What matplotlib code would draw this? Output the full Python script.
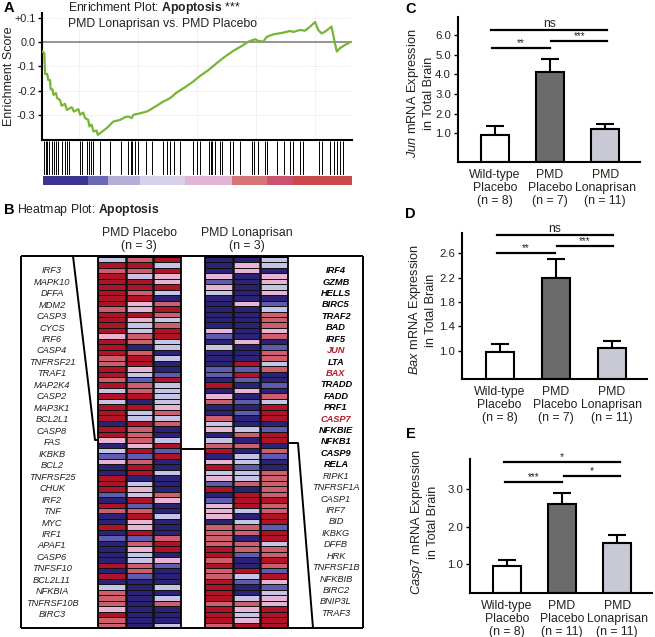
import numpy as np
import matplotlib
matplotlib.use('Agg')
import matplotlib.pyplot as plt
from matplotlib.colors import ListedColormap, BoundaryNorm

plt.rcParams['font.family'] = ['Liberation Sans', 'DejaVu Sans']
plt.rcParams['mathtext.fontset'] = 'custom'
plt.rcParams['mathtext.rm'] = 'Liberation Sans'
plt.rcParams['mathtext.it'] = 'Liberation Sans:italic'
plt.rcParams['mathtext.bf'] = 'Liberation Sans:bold'

# ---------------- data ----------------
# Panel A: running enrichment score (rank in % of list, score)
es_rank = [0.2, 0.75, 1.0, 1.7, 2.0, 2.6, 2.8, 3.4, 3.7, 4.5, 4.9, 5.8, 6.3, 7.4, 8.0, 9.6,
           10.3, 11.7, 12.3, 13.3, 13.9, 14.9, 15.3, 16.0, 16.6, 17.6, 18.0, 18.7, 20.9, 23.0,
           25.2, 26.8, 27.8, 28.9, 29.5, 31.6, 33.8, 34.8, 37.0, 39.1, 41.3, 43.4, 46.1, 48.8,
           51.0, 53.7, 56.3, 59.0, 61.7, 64.4, 66.6, 68.7, 69.8, 71.4, 72.5, 74.6, 77.8, 80.0,
           81.1, 83.2, 84.8, 86.5, 88.1, 89.1, 90.2, 91.3, 93.4, 94.5, 95.1, 96.1, 97.7, 99.4]
es_score = [-0.039, -0.046, -0.131, -0.131, -0.156, -0.156, -0.194, -0.194, -0.217, -0.210,
            -0.231, -0.238, -0.262, -0.254, -0.279, -0.268, -0.286, -0.276, -0.299, -0.290,
            -0.313, -0.320, -0.347, -0.340, -0.368, -0.364, -0.382, -0.375, -0.354, -0.327,
            -0.320, -0.309, -0.306, -0.313, -0.299, -0.293, -0.286, -0.279, -0.262, -0.245,
            -0.231, -0.208, -0.186, -0.162, -0.139, -0.115, -0.087, -0.060, -0.036, -0.016,
            0.002, 0.012, 0.005, 0.002, 0.022, 0.032, 0.039, 0.046, 0.042, 0.050, 0.047,
            0.064, 0.083, 0.050, 0.036, 0.043, 0.064, -0.005, -0.039, -0.025, -0.012, 0.0]
es_ticks = [0.1, 0.0, -0.1, -0.2, -0.3]
es_ticklabels = ['+0.1', '0.0', '-0.1', '-0.2', '-0.3']
hit_ranks = [0.6, 1.2, 1.7, 2.4, 3.1, 3.9, 4.5, 5.3, 6.3, 7.4, 8.0, 8.7, 12.3, 12.8, 14.6,
             15.3, 15.7, 16.3, 16.6, 18.7, 21.9, 25.4, 27.8, 28.6, 28.9, 30.0, 31.1, 33.5,
             35.4, 39.1, 40.2, 41.3, 42.7, 44.5, 48.8, 50.1, 51.0, 54.0, 54.4, 54.9, 55.8,
             57.4, 58.0, 60.6, 61.7, 63.9, 67.6, 68.4, 69.8, 71.9, 72.5, 75.7, 78.1, 80.0,
             81.1, 83.2, 84.3, 89.5, 90.2, 92.9, 94.3, 95.1, 96.1, 97.2]
rank_bar_edges = [0.2, 14.9, 21.4, 31.6, 46.1, 61.2, 72.5, 81.1, 100]
rank_bar_colors = ['#3b3590', '#6b68b4', '#b5aed6', '#d8d1ea', '#e3b5d5', '#d27478',
                   '#c85470', '#c84a4a']

# Panel B: heatmap (-3 dark blue ... +3 dark red), 68 rows
placebo_1 = [-1, 3, 2, 3, 3, 3, 3, 3, 3, 2, 3, 3, 3, 3, 1, 3, 3, 3, 2, 2, 3, 3, 2, 3, -1, 3, -1, 3, 3,
             3, -3, 3, 3, 1, -3, -1, -2, 1, -3, -3, 3, 3, 3, -2, -3, 3, 2, -3, -3, 3, -3, -2, -3,
             -3, -3, -3, 3, -3, 3, -3, -1, 2, 2, 2, 1, 3, 2, 2]
placebo_2 = [2, 3, 2, -1, 3, 3, 2, 3, 1, 1, 3, 1, -1, -1, 2, 2, -3, 2, 3, 3, 1, -1, -2, 2, 2, 3, -3, 3, -1,
             -1, 3, 2, 2, 2, 1, 3, -2, 2, 3, 3, -3, -1, 1, -1, 3, -2, 2, 3, 1, 1, 3, -2, 2, 1,
             -1, -1, 2, 2, -2, -3, -3, -3, -3, -3, -3, -3, -3, -3]
placebo_3 = [3, -1, 3, 1, 1, 3, -1, -3, 2, 3, 2, -1, 2, 3, 3, -1, -1, -3, -1, -3, -3, -2, 3, -1, -1, -1, -1, 1, 2,
             -1, 2, -3, -3, -1, 3, -2, 3, -3, -3, -1, -3, -3, -3, 2, 1, -3, -3, -1, -3, -3, -3, 2, 3,
             3, -3, 1, -2, -3, -3, -3, -1, -3, -1, 2, -3, -3, -3, -1]
lonap_1 = [-3, -3, -3, 1, -2, 1, -1, -3, -3, -3, -3, -3, -3, 1, -2, -3, -1, -3, -3, -3, -2, -2, -3, 3, -3, 1, 2, -3, -3,
           2, -1, 1, -3, -1, 2, 3, -3, 1, 3, -1, 1, -2, 3, -3, -2, 1, 1, 1, -3, 2, 2, 2, 2, 3,
           3, 2, 3, 2, 2, 3, 3, 3, 3, 2, 3, 3, 3, 2]
lonap_2 = [-3, 1, 1, -3, -3, -3, -3, -3, 1, -3, -3, -3, -3, -3, -3, 1, -3, -3, -3, 3, -2, 3, -2, -3, 1, -3, -2, -3, -2,
           -3, -3, -1, 2, -3, 2, -3, -1, -1, -2, -1, -1, 2, -3, 3, 3, 3, -1, -3, -1, 2, 2, -3, 2,
           2, -2, -3, -3, 3, -1, -2, -3, -3, -1, 2, 1, -1, 1, 3]
lonap_3 = [-1, -1, -3, 1, 1, -1, 1, -3, -2, -1, 2, 2, 2, 1, 2, -3, -2, 2, 2, -1, 2, -3, -3, -2, -3, 2, -1, 3, 3,
           3, -3, -2, 3, 3, -3, 2, -2, -3, -3, 2, 2, 2, 2, 2, 3, 2, 2, 3, 3, -2, 3, 3, -1, 2,
           2, 3, 2, -2, 3, 1, -2, -1, 1, 1, 3, 3, 3, 3]
heat_colors = ['#2b2275', '#5f5caf', '#c6c4e6', '#e8b4d4', '#cd5e6e', '#b01228']
heat_levels = [-3.5, -2.5, -1.5, 0, 1.5, 2.5, 3.5]

genes_left = ['IRF3', 'MAPK10', 'DFFA', 'MDM2', 'CASP3', 'CYCS', 'IRF6', 'CASP4', 'TNFRSF21',
              'TRAF1', 'MAP2K4', 'CASP2', 'MAP3K1', 'BCL2L1', 'CASP8', 'FAS', 'IKBKB', 'BCL2',
              'TNFRSF25', 'CHUK', 'IRF2', 'TNF', 'MYC', 'IRF1', 'APAF1', 'CASP6', 'TNFSF10',
              'BCL2L11', 'NFKBIA', 'TNFRSF10B', 'BIRC3']
genes_right = ['IRF4', 'GZMB', 'HELLS', 'BIRC5', 'TRAF2', 'BAD', 'IRF5', 'JUN', 'LTA', 'BAX',
               'TRADD', 'FADD', 'PRF1', 'CASP7', 'NFKBIE', 'NFKB1', 'CASP9', 'RELA', 'RIPK1',
               'TNFRSF1A', 'CASP1', 'IRF7', 'BID', 'IKBKG', 'DFFB', 'HRK', 'TNFRSF1B', 'NFKBIB',
               'BIRC2', 'BNIP3L', 'TRAF3']
n_bold_right = 18
red_genes = ['JUN', 'BAX', 'CASP7']

# Panels C-E: qPCR bars
groups = ['Wild-type\nPlacebo', 'PMD\nPlacebo', 'PMD\nLonaprisan']
bar_colors = ['#ffffff', '#6b6b6b', '#c9c9d6']
jun_n = [8, 7, 11]
jun_mean = [0.93, 4.10, 1.20]
jun_sem = [0.44, 0.67, 0.26]
bax_n = [8, 7, 11]
bax_mean = [0.98, 2.20, 1.05]
bax_sem = [0.14, 0.31, 0.12]
casp7_n = [8, 11, 11]
casp7_mean = [0.96, 2.60, 1.58]
casp7_sem = [0.17, 0.30, 0.20]

# ---------------- layout ----------------
W, H = 655, 637
fig = plt.figure(figsize=(W / 100, H / 100), dpi=100)


def rect(l, t, r, b):
    return [l / W, 1 - b / H, (r - l) / W, (b - t) / H]


TXT = '#222222'

# ---- Panel A ----
axA = fig.add_axes(rect(42, 13, 352, 140))
axA.plot(es_rank, es_score, color='#77b535', lw=1.6, zorder=3)
axA.axhline(0, color='#8c8c8c', lw=1.3, zorder=2)
axA.set_xlim(0, 100)
axA.set_ylim(-0.403, 0.12)
axA.set_yticks(es_ticks)
axA.set_yticklabels(es_ticklabels, fontsize=7.8, color=TXT)
axA.set_xticks([12, 31, 50, 69, 88])
axA.set_xticklabels([])
axA.tick_params(axis='x', length=0)
axA.tick_params(axis='y', length=3, width=1, direction='out', pad=1.5)
axA.grid(color='#d9d9d9', ls=':', lw=0.6)
for s in ['top', 'right']:
    axA.spines[s].set_visible(False)
for s in ['left', 'bottom']:
    axA.spines[s].set_linewidth(1.5)

axH = fig.add_axes(rect(42, 141, 352, 175))
axH.vlines(hit_ranks, 0, 1, color='black', lw=0.7)
axH.set_xlim(0, 100)
axH.set_ylim(0, 1)
axH.axis('off')

axR = fig.add_axes(rect(42, 176, 352, 185))
for i, c in enumerate(rank_bar_colors):
    axR.barh(0, rank_bar_edges[i + 1] - rank_bar_edges[i], left=rank_bar_edges[i],
             height=1, color=c, lw=0)
axR.set_xlim(0, 100)
axR.set_ylim(-0.5, 0.5)
axR.axis('off')

# ---- Panel B heatmaps ----
cmap = ListedColormap(heat_colors)
norm = BoundaryNorm(heat_levels, cmap.N)
for (l, r), cols in [((98, 181), [placebo_1, placebo_2, placebo_3]),
                     ((205, 288), [lonap_1, lonap_2, lonap_3])]:
    axh = fig.add_axes(rect(l, 257, r, 628))
    M = np.array(cols).T
    axh.pcolormesh(M, cmap=cmap, norm=norm, edgecolors='#111111', linewidth=0.6)
    axh.set_xlim(0, 3)
    axh.set_ylim(M.shape[0], 0)
    axh.vlines([1, 2], 0, M.shape[0], color='#111111', lw=1.8)
    axh.set_xticks([])
    axh.set_yticks([])
    for s in axh.spines.values():
        s.set_linewidth(1.3)

# ---- Panels C, D, E ----


def bar_panel(r, means, sems, ns, ylim, yticks, sig):
    ax = fig.add_axes(rect(*r))
    x = np.arange(len(means))
    base = ylim[0]
    ax.bar(x, np.array(means) - base, bottom=base, width=0.5, color=bar_colors,
           edgecolor='black', lw=1.5, zorder=2)
    ax.errorbar(x, means, yerr=[np.zeros(len(sems)), sems], fmt='none', ecolor='black',
                elinewidth=1.5, capsize=6.5, capthick=1.5, zorder=1)
    ax.set_xlim(-0.67, 2.63)
    ax.set_ylim(*ylim)
    ax.set_yticks(yticks)
    ax.set_yticklabels(['%.1f' % v for v in yticks], fontsize=8.2, color=TXT)
    ax.set_xticks(x)
    ax.set_xticklabels(['%s\n(n = %d)' % (g, n) for g, n in zip(groups, ns)],
                       fontsize=8.8, color=TXT, linespacing=1.1)
    ax.tick_params(axis='x', length=0, pad=5)
    ax.tick_params(axis='y', length=3, width=1, pad=2)
    for s in ['top', 'right']:
        ax.spines[s].set_visible(False)
    for s in ['left', 'bottom']:
        ax.spines[s].set_linewidth(1.5)
    for (x0, x1, y, lab, fs) in sig:
        ax.plot([x0, x1], [y, y], color='black', lw=1.6, clip_on=False)
        ax.text((x0 + x1) / 2, y, lab, ha='center', va='bottom', fontsize=fs, color=TXT)
    return ax


bar_panel((458, 17, 640, 162), jun_mean, jun_sem, jun_n, (-0.47, 6.93),
          [1.0, 2.0, 3.0, 4.0, 5.0, 6.0],
          [(-0.07, 2.04, 6.25, 'ns', 8.7), (-0.05, 0.99, 5.35, '**', 7),
           (1.02, 2.04, 5.70, '***', 7)])
bar_panel((462, 233, 647, 379), bax_mean, bax_sem, bax_n, (0.54, 2.93),
          [1.0, 1.4, 1.8, 2.2, 2.6],
          [(-0.05, 2.03, 2.895, 'ns', 8.7), (-0.05, 0.99, 2.607, '**', 7),
           (1.02, 2.03, 2.715, '***', 7)])
bar_panel((470, 459, 652, 593), casp7_mean, casp7_sem, casp7_n, (0.245, 3.79),
          [1.0, 2.0, 3.0],
          [(-0.05, 2.05, 3.71, '*', 7.5), (-0.03, 1.0, 3.19, '***', 7),
           (1.03, 2.05, 3.35, '*', 7.5)])

# ---- overlay for texts and connector lines ----
ov = fig.add_axes([0, 0, 1, 1])
ov.set_xlim(0, W)
ov.set_ylim(H, 0)
ov.axis('off')
ov.patch.set_alpha(0)

for (x, y, s) in [(4, 8, 'A'), (4, 210, 'B'), (405, 9, 'C'), (405, 214, 'D'), (406, 434, 'E')]:
    ov.text(x, y, s, fontsize=10.5, fontweight='bold', ha='left', va='center', color='black')

ov.text(9, 76, 'Enrichment Score', rotation=90, fontsize=9, ha='center', va='center',
        color=TXT)
ov.text(68, 8, r'Enrichment Plot: $\bf{Apoptosis}$ ***', fontsize=8.8, ha='left',
        va='center', color=TXT)
ov.text(68, 24, 'PMD Lonaprisan vs. PMD Placebo', fontsize=8.8, ha='left', va='center',
        color=TXT)
ov.text(17, 210, r'Heatmap Plot: $\bf{Apoptosis}$', fontsize=8.8, ha='left', va='center',
        color=TXT)
ov.text(139, 239.5, 'PMD Placebo\n(n = 3)', fontsize=8.8, ha='center', va='center',
        color=TXT, linespacing=1.2)
ov.text(246.5, 239.5, 'PMD Lonaprisan\n(n = 3)', fontsize=8.8, ha='center', va='center',
        color=TXT, linespacing=1.2)

# y labels for bar panels
for (x, y, g) in [(420, 93, 'Jun'), (422, 310, 'Bax'), (424, 522, 'Casp7')]:
    ov.text(x, y, r'$\it{%s}$ mRNA Expression' % g + '\nin Total Brain', rotation=90,
            fontsize=9.2, ha='center', va='center', color=TXT, linespacing=1.15)

# gene labels
for i, g in enumerate(genes_left):
    ov.text(52, 270.7 + i * 11.47, g, fontsize=6.7, style='italic', ha='center',
            va='center', color=TXT)
for i, g in enumerate(genes_right):
    ov.text(336, 270.7 + i * 11.42, g, fontsize=6.7, style='italic', ha='center',
            va='center', color=('#b0202a' if g in red_genes else ('black' if i < n_bold_right else TXT)),
            fontweight=('bold' if i < n_bold_right else 'normal'))

# box and connector lines
lk = dict(color='black', lw=1.4, solid_capstyle='butt')
ov.plot([21, 363], [256, 256], **lk)
ov.plot([21, 363], [628, 628], **lk)
ov.plot([21, 21], [256, 628], **lk)
ov.plot([363, 363], [256, 628], **lk)
ov.plot([73, 95, 98], [256, 440, 440], **lk)
ov.plot([288, 298, 313], [443, 443, 628], **lk)
ov.plot([182, 205], [449, 449], **lk)

fig.savefig('out.png', dpi=100)
